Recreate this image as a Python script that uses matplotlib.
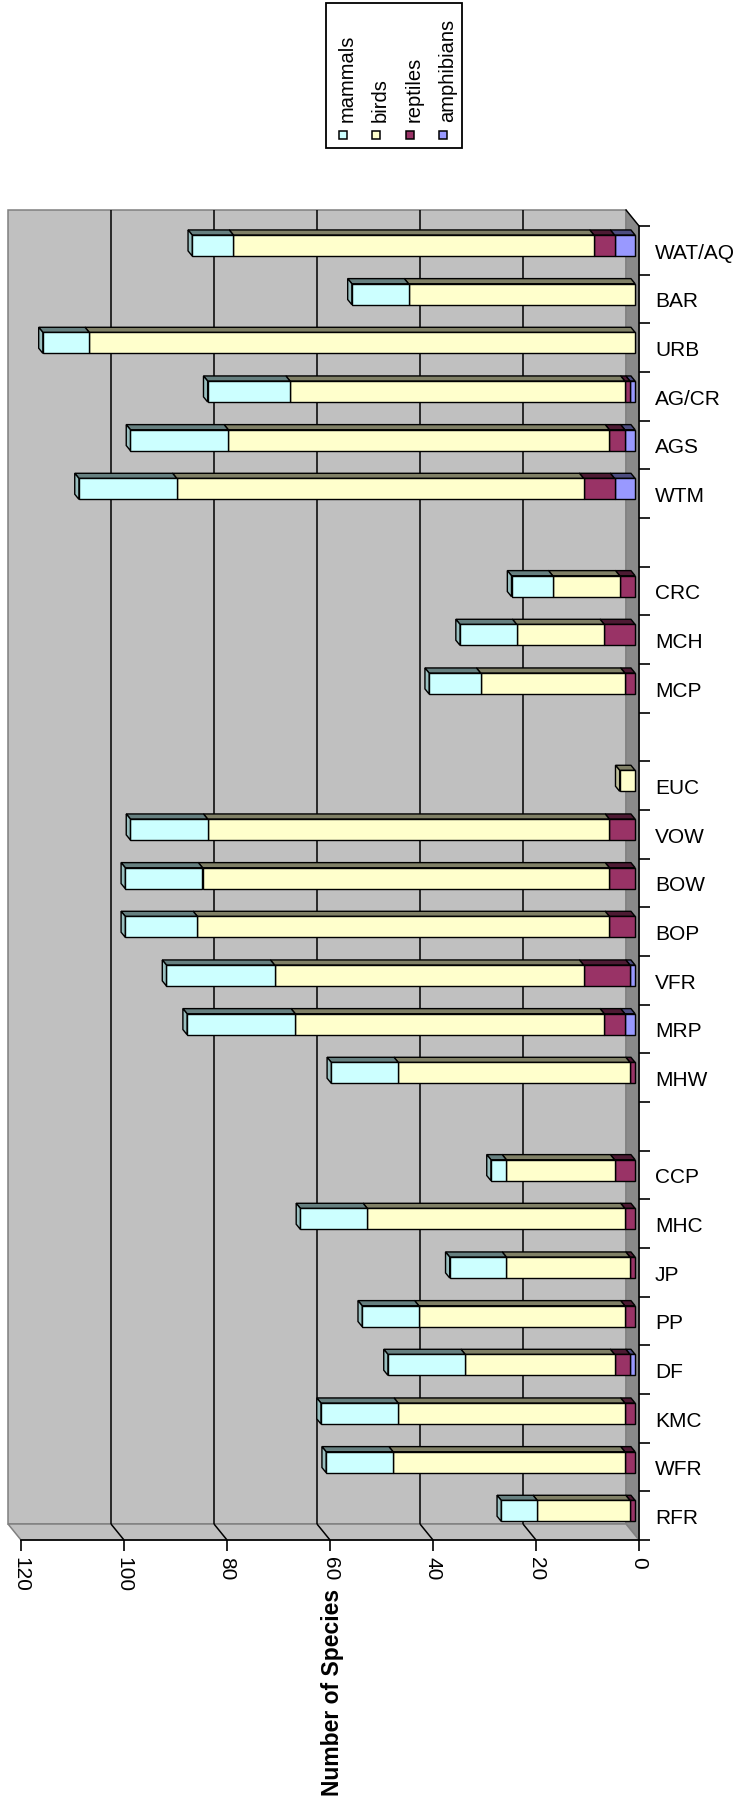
import numpy as np
import matplotlib
matplotlib.use("Agg")
import matplotlib.pyplot as plt
from matplotlib.patches import Polygon, Rectangle

plt.rcParams['font.family'] = ['Liberation Sans', 'DejaVu Sans']

# ---- data -------------------------------------------------------------
categories = ["RFR", "WFR", "KMC", "DF", "PP", "JP", "MHC", "CCP", "",
              "MHW", "MRP", "VFR", "BOP", "BOW", "VOW", "EUC", "",
              "MCP", "MCH", "CRC", "",
              "WTM", "AGS", "AG/CR", "URB", "BAR", "WAT/AQ"]
amphibians = [0, 0, 0, 1, 0, 0, 0, 0, 0,
              0, 2, 1, 0, 0, 0, 0, 0,
              0, 0, 0, 0,
              4, 2, 1, 0, 0, 4]
reptiles = [1, 2, 2, 3, 2, 1, 2, 4, 0,
            1, 4, 9, 5, 5, 5, 0, 0,
            2, 6, 3, 0,
            6, 3, 1, 0, 0, 4]
birds = [18, 45, 44, 29, 40, 24, 50, 21, 0,
         45, 60, 60, 80, 79, 78, 3, 0,
         28, 17, 13, 0,
         79, 74, 65, 106, 44, 70]
mammals = [7, 13, 15, 15, 11, 11, 13, 3, 0,
           13, 21, 21, 14, 15, 15, 0, 0,
           10, 11, 8, 0,
           19, 19, 16, 9, 11, 8]
value_ticks = [0, 20, 40, 60, 80, 100, 120]
legend_labels = ["mammals", "birds", "reptiles", "amphibians"]

# stacking order from the zero end outwards
stack = [amphibians, reptiles, birds, mammals]
front_col = ["#9999FF", "#993366", "#FFFFCC", "#CCFFFF"]
top_col = ["#4D4D80", "#4D1A33", "#808066", "#668080"]
side_col = ["#7373BF", "#732640", "#BFBF99", "#99BFBF"]

# ---- figure / front plane of the 3-D box --------------------------------
W, H = 738, 1808
fig = plt.figure(figsize=(W / 100, H / 100), dpi=100)
fig.patch.set_facecolor("white")

ax_l, ax_r, ax_t, ax_b = 21, 639, 227, 1541
ax = fig.add_axes([ax_l / W, (H - ax_b) / H, (ax_r - ax_l) / W, (ax_b - ax_t) / H])
ax.patch.set_alpha(0)

n = len(categories)
vmax = value_ticks[-1]
ax.set_xlim(vmax, 0)
ax.set_ylim(0, n)

# depth of the box in data units (points up and to the left)
px_per_val = (ax_r - ax_l) / vmax
px_per_slot = (ax_b - ax_t) / n
ddx = 13 / px_per_val
ddy = 16 / px_per_slot

wall_grey = "#C0C0C0"
edge_grey = "#808080"

# back wall
ax.add_patch(Polygon([(ddx, ddy), (vmax + ddx, ddy), (vmax + ddx, n + ddy), (ddx, n + ddy)],
                     closed=True, fc=wall_grey, ec=edge_grey, lw=1.1, clip_on=False, zorder=0.5))
# floor strip at zero
ax.add_patch(Polygon([(0, 0), (ddx, ddy), (ddx, n + ddy), (0, n)],
                     closed=True, fc="#8A8A8A", ec=edge_grey, lw=1.0, clip_on=False, zorder=0.6))
# side wall strip along the value axis
ax.add_patch(Polygon([(0, 0), (vmax, 0), (vmax + ddx, ddy), (ddx, ddy)],
                     closed=True, fc=wall_grey, ec=edge_grey, lw=1.1, clip_on=False, zorder=0.6))

# gridlines on the back wall and their continuation on the side wall
for v in value_ticks[1:-1]:
    ax.plot([v + ddx, v + ddx], [ddy, n + ddy], color="black", lw=1.1,
            clip_on=False, zorder=0.8, solid_capstyle="butt")
    ax.plot([v, v + ddx], [0, ddy], color="black", lw=1.1,
            clip_on=False, zorder=0.8, solid_capstyle="butt")
ax.plot([0, ddx], [n, n + ddy], color="black", lw=1.0, clip_on=False, zorder=0.8)

# ---- 3-D stacked bars ---------------------------------------------------
bar_h = 0.43
f_front = 0.30
f_depth = 0.32
fx, fy = f_front * ddx, f_front * ddy
bx, by = f_depth * ddx, f_depth * ddy
elw = 1.0

for i in range(n):
    c = i + 0.5
    y0 = c - bar_h / 2 + fy
    y1 = c + bar_h / 2 + fy
    cum = 0
    last = None
    for s, series in enumerate(stack):
        val = series[i]
        if val <= 0:
            continue
        a = cum + fx
        b = cum + val + fx
        ax.add_patch(Polygon([(a, y1), (b, y1), (b + bx, y1 + by), (a + bx, y1 + by)],
                             closed=True, fc=top_col[s], ec="black", lw=elw, zorder=3,
                             joinstyle="miter", clip_on=False))
        ax.add_patch(Rectangle((a, y0), b - a, y1 - y0, fc=front_col[s], ec="black",
                               lw=elw, zorder=3, joinstyle="miter", clip_on=False))
        cum += val
        last = s
    if last is not None:
        e = cum + fx
        ax.add_patch(Polygon([(e, y0), (e, y1), (e + bx, y1 + by), (e + bx, y0 + by)],
                             closed=True, fc=side_col[last], ec="black", lw=elw, zorder=3,
                             joinstyle="miter", clip_on=False))

# ---- axes ---------------------------------------------------------------
for side in ("left", "top"):
    ax.spines[side].set_visible(False)
for side in ("right", "bottom"):
    ax.spines[side].set_color("black")
    ax.spines[side].set_linewidth(1.2)
    ax.spines[side].set_zorder(2)

ax.set_xticks(value_ticks)
ax.set_xticklabels([str(v) for v in value_ticks])
ax.tick_params(axis="x", direction="out", length=8, width=1.2, pad=3.5,
               labelsize=15, labelrotation=-90)

ax.yaxis.tick_right()
ax.set_yticks(np.arange(n + 1))
ax.set_yticklabels([])
ax.set_yticks(np.arange(n) + 0.5, minor=True)
ax.set_yticklabels(categories, minor=True)
ax.tick_params(axis="y", which="major", direction="out", length=8, width=1.2,
               right=True, left=False, labelright=False, labelleft=False)
ax.tick_params(axis="y", which="minor", length=0, pad=11.5, labelsize=15,
               right=True, left=False, labelright=True, labelleft=False)

fig.text(332 / W, 1 - 1692 / H, "Number of Species", rotation=90, fontsize=16.5,
         fontweight="bold", ha="center", va="center")

# ---- legend -------------------------------------------------------------
fig.add_artist(Rectangle((326 / W, 1 - 149 / H), (462 - 326) / W, (149 - 4) / H,
                         transform=fig.transFigure, fc="white", ec="black", lw=1.3))
leg_order = [3, 2, 1, 0]  # mammals, birds, reptiles, amphibians
sq_x = [343, 376, 410, 443]
sq = 8
for k, s in enumerate(leg_order):
    fig.add_artist(Rectangle(((sq_x[k] - sq / 2) / W, 1 - (136 + sq / 2) / H), sq / W, sq / H,
                             transform=fig.transFigure, fc=front_col[s], ec="black", lw=1.1))
    fig.text((sq_x[k] + 4.5) / W, 1 - 122 / H, legend_labels[k], rotation=90,
             fontsize=14.5, ha="center", va="bottom")

fig.savefig("out.png", dpi=100)
